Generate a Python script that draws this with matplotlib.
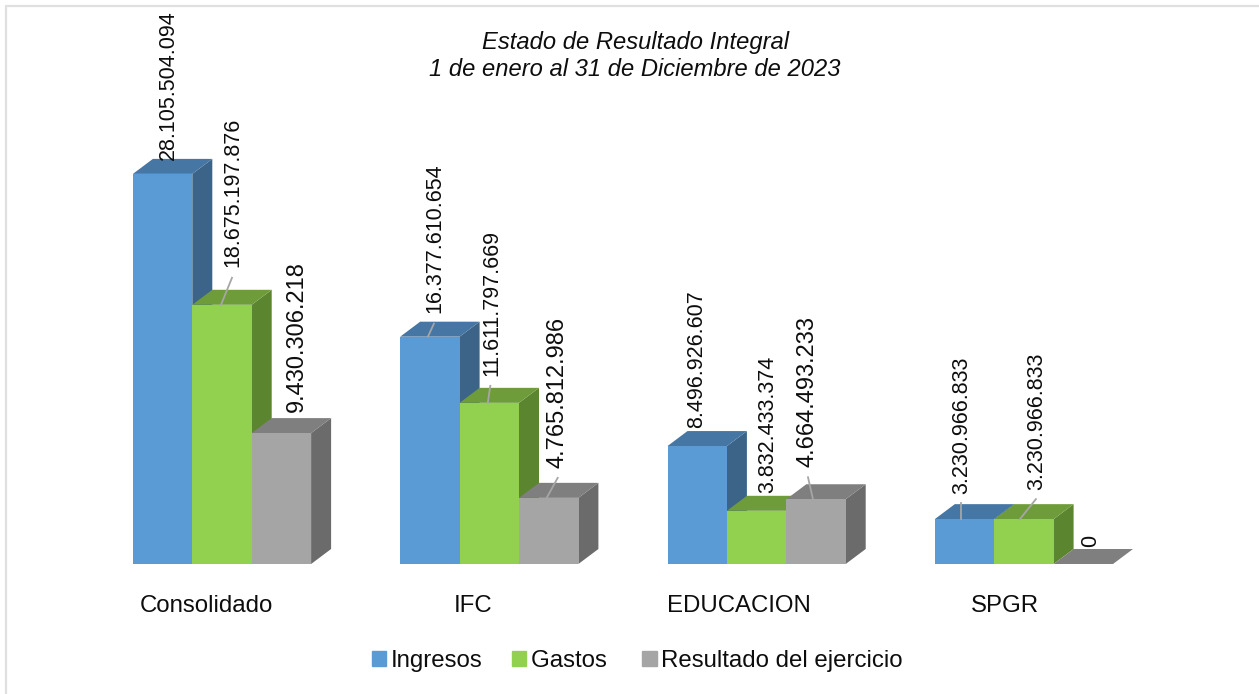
import matplotlib
matplotlib.use("Agg")
import matplotlib.pyplot as plt
from matplotlib.patches import Polygon, Patch

plt.rcParams['font.family'] = ['Liberation Sans', 'DejaVu Sans']

categories = ['Consolidado', 'IFC', 'EDUCACION', 'SPGR']
ingresos = [28105504094, 16377610654, 8496926607, 3230966833]
gastos = [18675197876, 11611797669, 3832433374, 3230966833]
resultado = [9430306218, 4765812986, 4664493233, 0]
series_names = ['Ingresos', 'Gastos', 'Resultado del ejercicio']
title_lines = 'Estado de Resultado Integral\n1 de enero al 31 de Diciembre de 2023'

W, H = 1259, 694
PX_PER_VAL = 13.88e-9      # pixels per unit of value
PX_PER_CAT = 267.3
X0 = 222.0                 # pixel centre of first group
BASE = 564.0               # pixel row of baseline
BAR_W = 59.4 / PX_PER_CAT
DX = 20.0 / PX_PER_CAT
DY = 15.0 / PX_PER_VAL
TXT = '#0D0D0D'

fig = plt.figure(figsize=(W / 100, H / 100), dpi=100, facecolor='white')
ax = fig.add_axes([0, 0, 1, 1])
ax.set_xlim(-X0 / PX_PER_CAT, (W - X0) / PX_PER_CAT)
ax.set_ylim(-(H - BASE) / PX_PER_VAL, BASE / PX_PER_VAL)
ax.axis('off')

# chart frame: only the top and left edges show
ax.plot([1, 5.5 / W, 5.5 / W], [1 - 5.5 / H, 1 - 5.5 / H, 0], transform=ax.transAxes,
        color='#E0E0E0', lw=1.6, solid_joinstyle='miter', clip_on=False)

styles = [('#5B9BD5', '#4676A3', '#3B6488'),
          ('#92D050', '#6E9C3A', '#5C8530'),
          ('#A5A5A5', '#7F7F7F', '#6B6B6B')]

# label: pixel offset from the top-centre of the bar, and font size
label_style = [[(5.5, 14, 15.5), (11, 38, 15.5), (15.6, 21, 17.0)],
               [(5, 24, 15.5), (3, 27, 15.5), (9, 30, 17.0)],
               [(-1, 18, 15.5), (11.5, 18, 15.5), (-8, 32, 17.0)],
               [(-2.5, 25, 15.5), (13, 29, 15.5), (7, 17, 15.5)]]
# leader: pixel start and end offsets from the top-centre of the bar
leaders = [[None, ((-1, 0), (10, 27)), None],
           [((-2, 0), (4, 13)), ((-1.5, 0), (1, 17)), ((-2, 0), (9, 20))],
           [None, None, ((-3, 0), (-8, 22))],
           [((-3.5, 0), (-3.5, 16)), ((-4, 0), (12, 20)), None]]

series = [ingresos, gastos, resultado]
for s, vals in enumerate(series):
    front, top, side = styles[s]
    xs = [i + (s - 1) * BAR_W for i in range(len(vals))]
    ax.bar(xs, vals, width=BAR_W, color=front, linewidth=0, zorder=3 + 0.1 * s)
    for i, (x, v) in enumerate(zip(xs, vals)):
        l, r = x - BAR_W / 2, x + BAR_W / 2
        ax.add_patch(Polygon([(r, 0), (r + DX, DY), (r + DX, v + DY), (r, v)], color=side, lw=0, zorder=2))
        ax.add_patch(Polygon([(l, v), (l + DX, v + DY), (r + DX, v + DY), (r, v)], color=top, lw=0, zorder=2.5 + 0.1 * s))
        ox, oy, fs = label_style[i][s]
        txt = f'{v:,}'.replace(',', '.')
        ax.annotate(txt, xy=(x, v), xytext=(ox, oy), textcoords='offset pixels',
                    rotation=90, ha='center', va='bottom', fontsize=fs, color=TXT, zorder=6)
        if leaders[i][s] is not None:
            (ax0, ay0), (ax1, ay1) = leaders[i][s]
            ax.plot([x + ax0 / PX_PER_CAT, x + ax1 / PX_PER_CAT],
                    [v + ay0 / PX_PER_VAL, v + ay1 / PX_PER_VAL],
                    color='#A6A6A6', lw=1.3, zorder=5)

# category labels
label_dx = [-15.5, -16, -17.6, -19]
for i, c in enumerate(categories):
    ax.annotate(c, xy=(i, 0), xytext=(label_dx[i], -42), textcoords='offset pixels',
                ha='center', va='center', fontsize=17.3, color=TXT)

ax.text(635 / W, 1 - 56 / H, title_lines, transform=ax.transAxes, ha='center', va='center',
        fontsize=17.15, style='italic', color=TXT, linespacing=1.25)

handles = [Patch(color=styles[i][0]) for i in range(3)]
labels = [series_names[0], series_names[1] + ' ', series_names[2]]
ax.legend(handles, labels, loc='center', bbox_to_anchor=(637.5 / W, 1 - 661 / H), ncols=3, frameon=False,
          fontsize=17.3, handlelength=0.6, handleheight=0.6, handletextpad=0.2, columnspacing=1.2,
          labelcolor=TXT, borderpad=0)

fig.savefig('out.png', dpi=100)
